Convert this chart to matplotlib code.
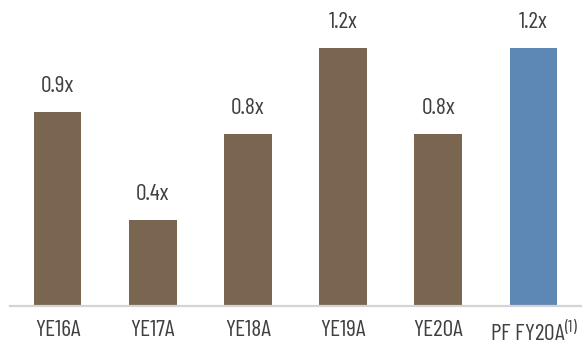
import matplotlib
matplotlib.use("Agg")
import matplotlib.pyplot as plt

periods = ["YE16A", "YE17A", "YE18A", "YE19A", "YE20A", "PF FY20A$^{(1)}$"]
multiples = [0.9, 0.4, 0.8, 1.2, 0.8, 1.2]
bar_colors = ["#7a6650", "#7a6650", "#7a6650", "#7a6650", "#7a6650", "#5d88b5"]

plt.rcParams["font.family"] = ["Barlow Condensed", "DejaVu Sans"]
plt.rcParams["mathtext.fontset"] = "custom"
plt.rcParams["mathtext.rm"] = "Barlow Condensed"
plt.rcParams["mathtext.it"] = "Barlow Condensed"

text_color = "#404040"

fig = plt.figure(figsize=(5.88, 3.52), dpi=100)
ax = fig.add_axes([10 / 588, 46 / 352, 571 / 588, 306 / 352])

x = range(len(periods))
bars = ax.bar(x, multiples, width=0.5, color=bar_colors)

for rect, val in zip(bars, multiples):
    ax.annotate(
        f"{val:.1f}x",
        (rect.get_x() + rect.get_width() / 2, val),
        xytext=(0, 11),
        textcoords="offset points",
        ha="center",
        va="bottom",
        fontsize=17,
        color=text_color,
    )

ax.set_xlim(-0.5, 5.5)
ax.set_ylim(0, 1.423)
ax.set_xticks(list(x))
ax.set_xticklabels(periods, fontsize=17, color=text_color)
ax.tick_params(axis="x", length=0, pad=10)
ax.set_yticks([])

for side in ["top", "left", "right"]:
    ax.spines[side].set_visible(False)
ax.spines["bottom"].set_color("#d4d4d4")
ax.spines["bottom"].set_linewidth(1.6)

fig.savefig("out.png", dpi=100)
plt.close(fig)
